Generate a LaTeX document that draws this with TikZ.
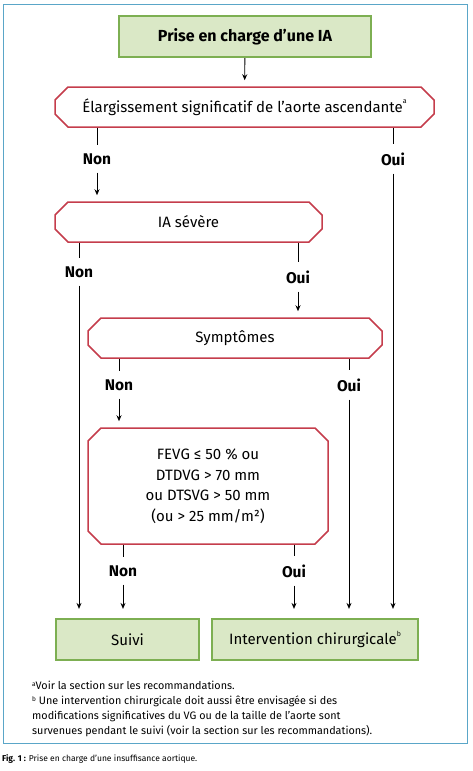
\documentclass[tikz,border=0pt]{standalone}
\usepackage{fontspec}
\setmainfont{Fira Sans}
\usetikzlibrary{arrows.meta,shapes.misc}
\definecolor{cadre}{HTML}{5AA6C8}
\definecolor{vertbord}{HTML}{7DAF52}
\definecolor{vertfond}{HTML}{DAE8C6}
\definecolor{rouge}{HTML}{C53D4C}
\newcommand{\appel}[1]{\raisebox{0.55em}{\fontsize{7}{7}\selectfont #1}}

\begin{document}
\begin{tikzpicture}[x=1pt,y=-1pt,
  resultat/.style={draw=vertbord, fill=vertfond, line width=2.2pt, minimum height=41pt, inner sep=0pt, font=\fontsize{15}{17}\selectfont},
  question/.style={chamfered rectangle, chamfered rectangle xsep=6pt, chamfered rectangle ysep=7pt, draw=rouge, line width=1.5pt, minimum height=40pt, inner sep=0pt, font=\fontsize{15}{17}\selectfont},
  reponse/.style={font=\bfseries\fontsize{15.5}{17}\selectfont, inner sep=8pt},
  fleche/.style={-{Stealth[length=6pt,width=5pt]}, line width=0.9pt, shorten >=6pt},
  trait/.style={line width=0.9pt}]
\useasboundingbox (0,0) rectangle (472,771);

% Cadre
\draw[cadre, line width=1pt] (3,4) rectangle (467,743);

% Boites
\node[resultat, minimum width=252pt, font=\bfseries\fontsize{16}{18}\selectfont] (debut) at (245,36.5) {Prise en charge d'une IA};
\node[question, minimum width=379pt] (aorte) at (244.5,107) {Élargissement significatif de l'aorte ascendante\appel{a}};
\node[question, minimum width=267pt] (severe) at (188.5,222) {IA sévère};
\node[question, minimum width=294pt] (sympt) at (235,338) {Symptômes};
\node[question, minimum width=240pt, minimum height=116pt, align=center, font=\fontsize{15}{20.5}\selectfont] (fevg) at (208,486)
  {FEVG ≤ 50 \% ou\\DTDVG > 70 mm\\ou DTSVG > 50 mm\\(ou > 25 mm/m²)};
\node[resultat, minimum width=143pt] (suivi) at (127.5,639.5) {Suivi};
\node[resultat, minimum width=206pt] (chir) at (315,639.5) {Intervention chirurgicale\appel{b}};

% Reponses
\node[reponse] (non1) at (97,159) {Non};
\node[reponse] (oui1) at (393,159) {Oui};
\node[reponse] (non2) at (79,272) {Non};
\node[reponse] (oui2) at (298,277) {Oui};
\node[reponse] (non3) at (119,385) {Non};
\node[reponse] (oui3) at (349,385) {Oui};
\node[reponse] (non4) at (123,571) {Non};
\node[reponse] (oui4) at (294,571) {Oui};

% Liaisons
\draw[fleche] (debut) -- (aorte);
\draw[trait] (aorte.south -| non1) -- (non1);
\draw[fleche] (non1) -- (severe.north -| non1);
\draw[trait] (aorte.south -| oui1) -- (oui1);
\draw[fleche, shorten >=9pt] (oui1) -- (chir.north -| oui1);
\draw[trait] (severe.south -| non2) -- (non2);
\draw[fleche, shorten >=9pt] (non2) -- (suivi.north -| non2);
\draw[trait] (severe.south -| oui2) -- (oui2);
\draw[fleche] (oui2) -- (sympt.north -| oui2);
\draw[trait] (sympt.south -| non3) -- (non3);
\draw[fleche] (non3) -- (fevg.north -| non3);
\draw[trait] (sympt.south -| oui3) -- (oui3);
\draw[fleche, shorten >=9pt] (oui3) -- (chir.north -| oui3);
\draw[trait] (fevg.south -| non4) -- (non4);
\draw[fleche, shorten >=9pt] (non4) -- (suivi.north -| non4);
\draw[trait] (fevg.south -| oui4) -- (oui4);
\draw[fleche, shorten >=9pt] (oui4) -- (chir.north -| oui4);

% Notes
\node[anchor=north west, align=left, inner sep=0pt, font=\fontsize{10.8}{15}\selectfont] (notes) at (32,681)
  {{\fontsize{6.5}{6.5}\selectfont\raisebox{0.5em}{a}}Voir la section sur les recommandations.\\
   {\fontsize{6.5}{6.5}\selectfont\raisebox{0.5em}{b}} Une intervention chirurgicale doit aussi être envisagée si des\\
   modifications significatives du VG ou de la taille de l'aorte sont\\
   survenues pendant le suivi (voir la section sur les recommandations).};
\node[anchor=west, inner sep=0pt, font=\fontsize{8.5}{10}\selectfont] (legende) at (2,759)
  {\textbf{Fig. 1 :} Prise en charge d'une insuffisance aortique.};
\end{tikzpicture}
\end{document}
